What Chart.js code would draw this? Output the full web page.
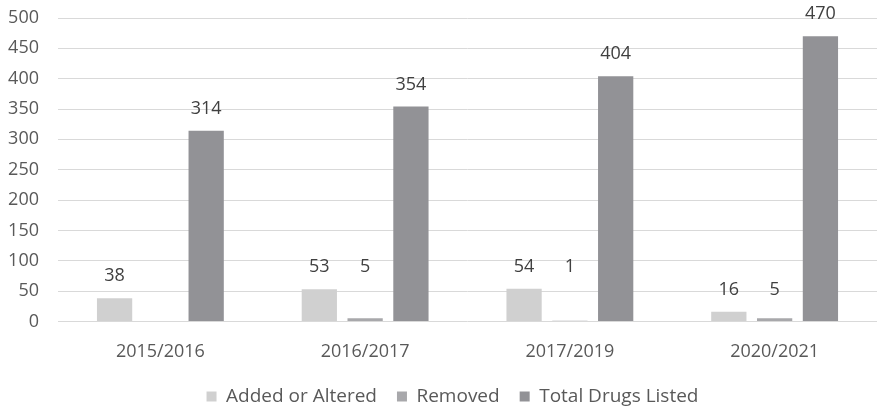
<!DOCTYPE html>
<html>
<head>
<meta charset="utf-8">
<script src="https://cdn.jsdelivr.net/npm/chart.js@4/dist/chart.umd.min.js"></script>
<style>
  html, body { margin: 0; padding: 0; background: #fff; }
  #wrap { width: 877px; height: 407px; }
</style>
</head>
<body>
<div id="wrap"><canvas id="drugChart"></canvas></div>
<script>
const years = ['2015/2016', '2016/2017', '2017/2019', '2020/2021'];
const addedOrAltered = [38, 53, 54, 16];
const removed = [null, 5, 1, 5];
const totalListed = [314, 354, 404, 470];

// value labels over each bar, small "Removed" labels share the row of the "Added" label
const barLabels = {
    id: 'barLabels',
    afterDatasetsDraw(chart) {
        const ctx = chart.ctx;
        ctx.save();
        ctx.font = '18px "Open Sans"';
        ctx.fillStyle = '#404040';
        ctx.textAlign = 'center';
        ctx.textBaseline = 'middle';
        const addedMeta = chart.getDatasetMeta(0);
        chart.data.datasets.forEach((ds, i) => {
            const meta = chart.getDatasetMeta(i);
            meta.data.forEach((bar, j) => {
                const v = ds.data[j];
                if (v === null) return;
                let y = bar.y - 22;
                if (i === 1) y = addedMeta.data[j].y - 22;
                ctx.fillText(v, bar.x, y);
            });
        });
        ctx.restore();
    }
};

// legend padding also spaces the items apart, so nudge the box back up a bit
const legendNudge = {
    id: 'legendNudge',
    afterLayout(chart) {
        const lg = chart.legend;
        lg.top -= 8;
        lg.bottom -= 8;
        lg.left += 12;
        lg.right += 12;
    }
};

const ctx = document.getElementById('drugChart').getContext('2d');
new Chart(ctx, {
    type: 'bar',
    data: {
        labels: years,
        datasets: [
            { label: 'Added or Altered', data: addedOrAltered, backgroundColor: '#d0d0d0' },
            { label: 'Removed', data: removed, backgroundColor: '#a8a8ab' },
            { label: 'Total Drugs Listed', data: totalListed, backgroundColor: '#929296' }
        ]
    },
    options: {
        responsive: true,
        maintainAspectRatio: false,
        animation: false,
        categoryPercentage: 0.671,
        barPercentage: 0.77,
        layout: { padding: { left: 0, right: -4, top: 0, bottom: -17 } },
        scales: {
            x: {
                grid: { display: false },
                border: { display: false },
                ticks: { font: { family: 'Open Sans', size: 18 }, color: '#595959', padding: 12 }
            },
            y: {
                min: 0,
                max: 500,
                ticks: { stepSize: 50, font: { family: 'Open Sans', size: 18 }, color: '#595959', padding: 19 },
                grid: { color: '#d9d9d9', drawTicks: false },
                border: { display: false },
                afterFit(scale) {
                    scale.width = 58;
                    scale.paddingTop = 18;
                    scale.paddingBottom = 0;
                }
            }
        },
        plugins: {
            legend: {
                position: 'bottom',
                labels: {
                    font: { family: 'Open Sans', size: 19 },
                    color: '#595959',
                    boxWidth: 10,
                    boxHeight: 10,
                    padding: 20
                }
            },
            tooltip: { enabled: false }
        }
    },
    plugins: [barLabels, legendNudge]
});
</script>
</body>
</html>
